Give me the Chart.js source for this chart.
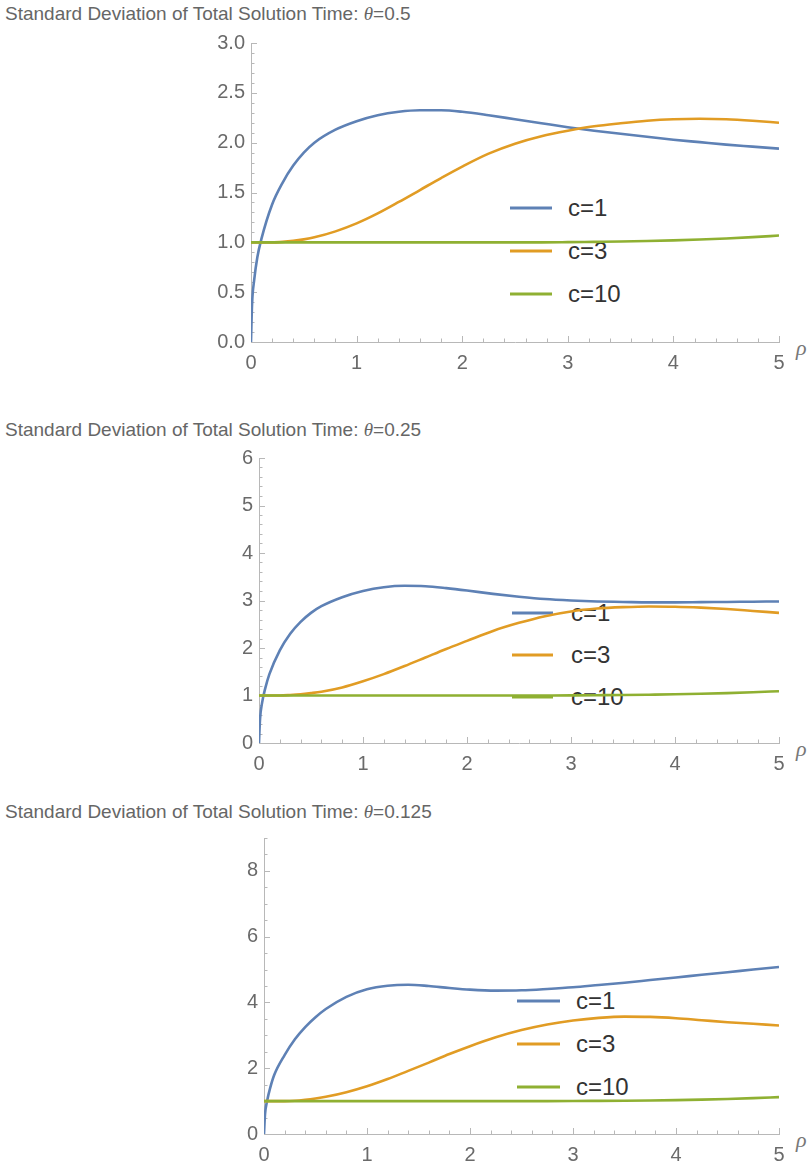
<!DOCTYPE html>
<html>
<head>
<meta charset="utf-8">
<script src="https://cdn.jsdelivr.net/npm/chart.js@4.4.1/dist/chart.umd.min.js"></script>
<style>
  body { margin: 0; background: #fff; width: 811px; height: 1164px; position: relative; overflow: hidden;
         font-family: "Liberation Sans", Arial, sans-serif; }
  .title { position: absolute; left: 5px; font-size: 19px; color: #666; white-space: nowrap; transform: translateY(-50%); }
  .title i { font-family: "Liberation Serif", serif; }
  .rho { position: absolute; font-size: 22px; font-style: italic; color: #777; font-family: "Liberation Serif", serif;
         transform: translateY(-50%); }
  .legline { position: absolute; height: 3px; transform: translateY(-50%); }
  .legtext { position: absolute; font-size: 24px; color: #333; transform: translateY(-50%); white-space: nowrap; }
  canvas { position: absolute; left: 0; z-index: 1; }
</style>
</head>
<body>
<script>
// rho sample points (shared by every curve)
const rho = [0, 0.01, 0.03, 0.06, 0.1, 0.2, 0.3, 0.4, 0.5, 0.6, 0.8, 1.0, 1.2, 1.4, 1.6, 1.8,
             2.0, 2.25, 2.5, 2.75, 3.0, 3.25, 3.5, 3.75, 4.0, 4.25, 4.5, 4.75, 5.0];

const seriesLabels = ["c=1", "c=3", "c=10"];
const seriesColors = ["#5E81B5", "#E19C24", "#8FB032"];

// theta = 0.5
const sd05_c1  = [0, 0.38, 0.62, 0.85, 1.04, 1.38, 1.6, 1.77, 1.9, 2.0, 2.13, 2.215, 2.275, 2.31, 2.325, 2.325,
                  2.31, 2.275, 2.235, 2.195, 2.155, 2.12, 2.09, 2.06, 2.03, 2.005, 1.98, 1.96, 1.94];
const sd05_c3  = [1, 1, 1, 1, 1, 1, 1.005, 1.015, 1.03, 1.05, 1.11, 1.19, 1.29, 1.405, 1.525, 1.645,
                  1.76, 1.89, 1.99, 2.065, 2.12, 2.165, 2.195, 2.22, 2.235, 2.24, 2.235, 2.22, 2.2];
const sd05_c10 = [1, 1, 1, 1, 1, 1, 1, 1, 1, 1, 1, 1, 1, 1, 1, 1,
                  1, 1, 1, 1, 1.002, 1.005, 1.008, 1.013, 1.02, 1.028, 1.038, 1.052, 1.068];

// theta = 0.25
const sd025_c1  = [0, 0.5, 0.85, 1.15, 1.45, 1.95, 2.3, 2.55, 2.74, 2.88, 3.07, 3.2, 3.28, 3.31, 3.3, 3.26,
                   3.21, 3.14, 3.08, 3.03, 3.0, 2.98, 2.97, 2.96, 2.96, 2.965, 2.97, 2.975, 2.98];
const sd025_c3  = [1, 1, 1, 1, 1, 1, 1.01, 1.025, 1.05, 1.08, 1.17, 1.3, 1.45, 1.62, 1.8, 1.98,
                   2.15, 2.36, 2.53, 2.67, 2.77, 2.83, 2.86, 2.875, 2.87, 2.85, 2.82, 2.78, 2.74];
const sd025_c10 = [1, 1, 1, 1, 1, 1, 1, 1, 1, 1, 1, 1, 1, 1, 1, 1,
                   1, 1, 1, 1.001, 1.003, 1.006, 1.01, 1.017, 1.025, 1.036, 1.05, 1.068, 1.09];

// theta = 0.125
const sd0125_c1  = [0, 0.6, 1.0, 1.4, 1.8, 2.4, 2.88, 3.25, 3.55, 3.8, 4.17, 4.4, 4.51, 4.54, 4.5, 4.44,
                    4.39, 4.36, 4.37, 4.41, 4.46, 4.53, 4.6, 4.68, 4.76, 4.84, 4.92, 5.0, 5.08];
const sd0125_c3  = [1, 1, 1, 1, 1, 1, 1.01, 1.04, 1.08, 1.13, 1.27, 1.45, 1.67, 1.92, 2.17, 2.43,
                    2.67, 2.94, 3.16, 3.33, 3.45, 3.53, 3.57, 3.56, 3.52, 3.46, 3.4, 3.35, 3.3];
const sd0125_c10 = [1, 1, 1, 1, 1, 1, 1, 1, 1, 1, 1, 1, 1, 1, 1, 1,
                    1, 1, 1, 1.001, 1.003, 1.007, 1.012, 1.02, 1.03, 1.045, 1.065, 1.09, 1.12];

const xTicks = [0, 1, 2, 3, 4, 5];
const yTicks05 = [0, 0.5, 1, 1.5, 2, 2.5, 3];
const yTicks025 = [0, 1, 2, 3, 4, 5, 6];
const yTicks0125 = [0, 2, 4, 6, 8];

// layout of each panel (page pixels)
const panels = [
  { theta: "0.5", series: [sd05_c1, sd05_c3, sd05_c10], yTicks: yTicks05, yMax: 3, yMinor: 0.1, yMajor: 0.5, dec: 1,
    titleY: 14, top: 25, height: 360, area: { left: 251, right: 779, top: 43, bottom: 342 },
    legend: { ys: [208, 251, 294], x1: 510, x2: 552, tx: 568 } },
  { theta: "0.25", series: [sd025_c1, sd025_c3, sd025_c10], yTicks: yTicks025, yMax: 6, yMinor: 0.2, yMajor: 1, dec: 0,
    titleY: 430, top: 440, height: 340, area: { left: 259, right: 779, top: 453, bottom: 743 },
    legend: { ys: [613, 655, 697], x1: 512, x2: 553, tx: 571 } },
  { theta: "0.125", series: [sd0125_c1, sd0125_c3, sd0125_c10], yTicks: yTicks0125, yMax: 9, yMinor: 0.5, yMajor: 2, dec: 0,
    titleY: 812, top: 820, height: 344, area: { left: 264, right: 779, top: 832, bottom: 1134 },
    legend: { ys: [1001, 1044, 1087], x1: 517, x2: 560, tx: 576 } }
];

const Y_W = 56, X_H = 32;

// Mathematica-style inward tick marks with minor ticks
const tickMarks = {
  id: "tickMarks",
  beforeDatasetsDraw(chart, args, opts) {
    const { ctx, scales: { x, y } } = chart;
    ctx.save();
    ctx.strokeStyle = "#b8b8b8";
    ctx.lineWidth = 1;
    ctx.beginPath();
    const nx = Math.round((x.max - x.min) / opts.xMinor);
    for (let i = 0; i <= nx; i++) {
      const v = x.min + i * opts.xMinor;
      const major = Math.abs(v / opts.xMajor - Math.round(v / opts.xMajor)) < 1e-6;
      const px = Math.round(x.getPixelForValue(v)) + 0.5;
      ctx.moveTo(px, y.bottom);
      ctx.lineTo(px, y.bottom - (major ? 6 : 3.5));
    }
    const ny = Math.round((y.max - y.min) / opts.yMinor);
    for (let i = 0; i <= ny; i++) {
      const v = y.min + i * opts.yMinor;
      const major = Math.abs(v / opts.yMajor - Math.round(v / opts.yMajor)) < 1e-6;
      const py = Math.round(y.getPixelForValue(v)) + 0.5;
      ctx.moveTo(x.left, py);
      ctx.lineTo(x.left + (major ? 6 : 3.5), py);
    }
    ctx.stroke();
    ctx.restore();
  }
};

panels.forEach((p) => {
  const title = document.createElement("div");
  title.className = "title";
  title.style.top = p.titleY + "px";
  title.innerHTML = "Standard Deviation of Total Solution Time: <i>θ</i>=" + p.theta;
  document.body.appendChild(title);

  const rhoLabel = document.createElement("div");
  rhoLabel.className = "rho";
  rhoLabel.style.left = (p.area.right + 17) + "px";
  rhoLabel.style.top = (p.area.bottom + 6) + "px";
  rhoLabel.textContent = "ρ";
  document.body.appendChild(rhoLabel);

  // legend sits behind the canvas, so curves cross over it as in the original
  seriesLabels.forEach((lab, i) => {
    const line = document.createElement("div");
    line.className = "legline";
    line.style.left = p.legend.x1 + "px";
    line.style.width = (p.legend.x2 - p.legend.x1) + "px";
    line.style.top = p.legend.ys[i] + "px";
    line.style.background = seriesColors[i];
    document.body.appendChild(line);
    const txt = document.createElement("div");
    txt.className = "legtext";
    txt.style.left = p.legend.tx + "px";
    txt.style.top = p.legend.ys[i] + "px";
    txt.textContent = lab;
    document.body.appendChild(txt);
  });

  const canvas = document.createElement("canvas");
  canvas.width = 811;
  canvas.height = p.height;
  canvas.style.top = p.top + "px";
  document.body.appendChild(canvas);

  const datasets = p.series.map((vals, i) => ({
    label: seriesLabels[i],
    data: rho.map((r, k) => ({ x: r, y: vals[k] })),
    borderColor: seriesColors[i],
    borderWidth: 2.6,
    pointRadius: 0,
    cubicInterpolationMode: "monotone",
    fill: false
  }));
  // draw c=10 first, c=1 last (on top)
  datasets.reverse();

  new Chart(canvas.getContext("2d"), {
    type: "line",
    data: { datasets },
    plugins: [tickMarks],
    options: {
      responsive: false,
      animation: false,
      layout: {
        padding: {
          left: p.area.left - Y_W,
          right: 811 - p.area.right,
          top: p.area.top - p.top,
          bottom: p.top + p.height - p.area.bottom - X_H
        }
      },
      plugins: {
        legend: { display: false },
        tooltip: { enabled: false },
        tickMarks: { xMinor: 0.2, xMajor: 1, yMinor: p.yMinor, yMajor: p.yMajor }
      },
      scales: {
        x: {
          type: "linear",
          min: 0, max: 5,
          afterFit: (s) => { s.height = X_H; },
          afterBuildTicks: (s) => { s.ticks = xTicks.map((v) => ({ value: v })); },
          grid: { display: true, drawOnChartArea: false, drawTicks: false },
          border: { color: "#b8b8b8", width: 1 },
          ticks: { padding: 9, color: "#6a6a6a", font: { family: "Liberation Sans", size: 20 }, maxRotation: 0,
                   callback: (v) => String(v) }
        },
        y: {
          type: "linear",
          min: 0, max: p.yMax,
          afterFit: (s) => { s.width = Y_W; },
          afterBuildTicks: (s) => { s.ticks = p.yTicks.map((v) => ({ value: v })); },
          grid: { display: true, drawOnChartArea: false, drawTicks: false },
          border: { color: "#b8b8b8", width: 1 },
          ticks: { padding: 6, color: "#6a6a6a", font: { family: "Liberation Sans", size: 20 },
                   callback: (v) => Number(v).toFixed(p.dec) }
        }
      }
    }
  });
});
</script>
</body>
</html>
